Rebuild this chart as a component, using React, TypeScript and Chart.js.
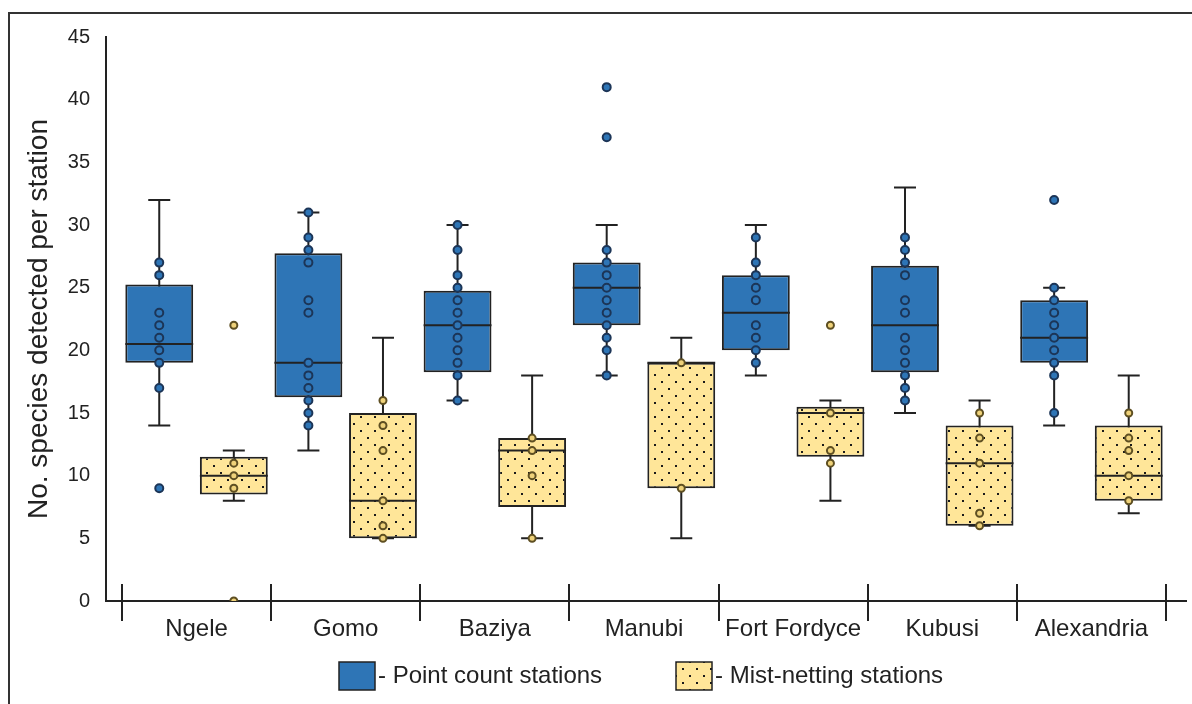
import React, { useEffect, useRef } from "react";
import { Chart, registerables } from "chart.js";

Chart.register(...registerables);

// ---------- data ----------
const categories = ["Ngele", "Gomo", "Baziya", "Manubi", "Fort Fordyce", "Kubusi", "Alexandria"];

const pointMin = [14, 12, 16, 18, 18, 15, 14];
const pointQ1 = [19, 16.25, 18.25, 22, 20, 18.25, 19];
const pointMedian = [20.5, 19, 22, 25, 23, 22, 21];
const pointQ3 = [25.25, 27.75, 24.75, 27, 26, 26.75, 24];
const pointMax = [32, 31, 30, 30, 30, 33, 25];
const pointObs = [
  [9, 17, 19, 20, 21, 22, 23, 26, 27],
  [14, 15, 16, 17, 18, 19, 23, 24, 27, 28, 29, 31],
  [16, 18, 19, 20, 21, 22, 23, 24, 25, 26, 28, 30],
  [18, 20, 21, 22, 23, 24, 25, 26, 27, 28, 37, 41],
  [19, 20, 21, 22, 24, 25, 26, 27, 29],
  [16, 17, 18, 19, 20, 21, 23, 24, 26, 27, 28, 29],
  [15, 18, 19, 20, 21, 22, 23, 24, 25, 32],
];

const mistMin = [8, 5, 5, 5, 8, 6, 7];
const mistQ1 = [8.5, 5, 7.5, 9, 11.5, 6, 8];
const mistMedian = [10, 8, 12, 19, 15, 11, 10];
const mistQ3 = [11.5, 15, 13, 19, 15.5, 14, 14];
const mistMax = [12, 21, 18, 21, 16, 16, 18];
const mistObs = [
  [0, 9, 10, 11, 22],
  [5, 6, 8, 12, 14, 16],
  [5, 10, 12, 13],
  [9, 19],
  [11, 12, 15, 22],
  [6, 7, 11, 13, 15],
  [8, 10, 12, 13, 15],
];

const yTicks = [0, 5, 10, 15, 20, 25, 30, 35, 40, 45];
const seriesLabels = ["Point count stations", "Mist-netting stations"];
const yTitle = "No. species detected per station";

// ---------- styles ----------
const BLUE = "#2E75B6";
const YELLOW = "#FFE699";
const INK = "#222222";
const FONT = "'Liberation Sans', Arial, sans-serif";
const OFFSETS = [0.25, 0.75];

function makePattern(): CanvasPattern | string {
  const c = document.createElement("canvas");
  c.width = 14;
  c.height = 14;
  const g = c.getContext("2d");
  if (!g) return YELLOW;
  g.fillStyle = YELLOW;
  g.fillRect(0, 0, 14, 14);
  g.fillStyle = "#1a1a1a";
  g.fillRect(3, 3, 2, 2);
  g.fillRect(10, 10, 2, 2);
  const p = g.createPattern(c, "repeat");
  return p || YELLOW;
}

const stats = [
  { min: pointMin, q1: pointQ1, med: pointMedian, q3: pointQ3, max: pointMax },
  { min: mistMin, q1: mistQ1, med: mistMedian, q3: mistQ3, max: mistMax },
];

const boxPlugin = {
  id: "boxParts",
  beforeDatasetsDraw(chart: any) {
    const { ctx } = chart;
    const xs = chart.scales.x;
    const ys = chart.scales.y;
    ctx.save();
    ctx.strokeStyle = INK;
    ctx.lineWidth = 2;
    stats.forEach((s, k) => {
      categories.forEach((_, i) => {
        const x = xs.getPixelForValue(i + OFFSETS[k]);
        const yMin = ys.getPixelForValue(s.min[i]);
        const yMax = ys.getPixelForValue(s.max[i]);
        ctx.beginPath();
        ctx.moveTo(x, yMin);
        ctx.lineTo(x, yMax);
        ctx.moveTo(x - 11, yMin);
        ctx.lineTo(x + 11, yMin);
        ctx.moveTo(x - 11, yMax);
        ctx.lineTo(x + 11, yMax);
        ctx.stroke();
      });
    });
    ctx.restore();
  },
  afterDatasetDraw(chart: any, args: any) {
    const meta = args.meta;
    if (meta.type !== "bar") return;
    const k = args.index;
    const s = stats[k];
    if (!s) return;
    const { ctx } = chart;
    const ys = chart.scales.y;
    ctx.save();
    ctx.strokeStyle = INK;
    ctx.lineWidth = 2;
    meta.data.forEach((bar: any, i: number) => {
      const y = ys.getPixelForValue(s.med[i]);
      const half = bar.width / 2;
      ctx.beginPath();
      ctx.moveTo(bar.x - half, y);
      ctx.lineTo(bar.x + half, y);
      ctx.stroke();
    });
    ctx.restore();
  },
  afterDraw(chart: any) {
    const { ctx } = chart;
    const xs = chart.scales.x;
    const ys = chart.scales.y;
    const y0 = ys.getPixelForValue(0);
    ctx.save();
    ctx.strokeStyle = INK;
    ctx.lineWidth = 2;
    for (let i = 0; i <= categories.length; i++) {
      const x = Math.round(xs.getPixelForValue(i));
      ctx.beginPath();
      ctx.moveTo(x, y0 - 17);
      ctx.lineTo(x, y0 + 20);
      ctx.stroke();
    }
    // legend
    const items = chart.data.datasets.slice(0, 2);
    const boxX = [339, 676];
    const boxY = 662;
    ctx.font = `24px ${FONT}`;
    ctx.textBaseline = "middle";
    ctx.textAlign = "left";
    items.forEach((ds: any, k: number) => {
      ctx.fillStyle = ds.backgroundColor;
      ctx.fillRect(boxX[k], boxY, 36, 28);
      ctx.lineWidth = 1.5;
      ctx.strokeStyle = INK;
      ctx.strokeRect(boxX[k], boxY, 36, 28);
      ctx.fillStyle = INK;
      ctx.fillText("- " + ds.label, boxX[k] + 39, boxY + 14);
    });
    ctx.restore();
  },
};

export default function App() {
  const ref = useRef<HTMLCanvasElement>(null);

  useEffect(() => {
    const canvas = ref.current;
    if (!canvas) return;
    const pattern = makePattern();
    const fills = [BLUE, pattern];
    const obs = [pointObs, mistObs];

    const barSets = seriesLabels.map((label, k) => ({
      type: "bar" as const,
      label,
      data: categories.map((_, i) => ({ x: i + OFFSETS[k], y: [stats[k].q1[i], stats[k].q3[i]] })),
      backgroundColor: fills[k],
      borderColor: INK,
      borderWidth: 2,
      borderSkipped: false,
      grouped: false,
      barPercentage: 0.91,
      categoryPercentage: 1,
      order: 2,
    }));

    const pointSets = seriesLabels.map((label, k) => ({
      type: "scatter" as const,
      label: label + " (stations)",
      data: obs[k].flatMap((vals, i) => vals.map((v) => ({ x: i + OFFSETS[k], y: v }))),
      pointRadius: k === 0 ? 4 : 3.5,
      pointBorderWidth: 2,
      backgroundColor: k === 0 ? BLUE : "#EFD27A",
      borderColor: k === 0 ? "#1c3557" : "#5e4f22",
      showLine: false,
      order: 0,
    }));

    const chart = new Chart(canvas, {
      type: "bar",
      data: { datasets: [...barSets, ...pointSets] as any },
      options: {
        animation: false,
        responsive: false,
        maintainAspectRatio: false,
        devicePixelRatio: 1,
        layout: { padding: { left: 0, top: 37, right: 4, bottom: 0 } },
        plugins: { legend: { display: false }, tooltip: { enabled: false } },
        scales: {
          x: {
            type: "linear",
            position: "bottom",
            offset: false,
            min: -0.107,
            max: 7.134,
            afterBuildTicks: (scale: any) => {
              scale.ticks = categories.map((_, i) => ({ value: i + 0.5 }));
            },
            afterFit: (scale: any) => {
              scale.height = 103;
            },
            grid: { display: false, drawTicks: false, offset: false },
            border: { display: true, color: INK, width: 2 },
            ticks: {
              autoSkip: false,
              maxRotation: 0,
              padding: 14,
              color: INK,
              font: { family: FONT, size: 24 },
              callback: (v: any) => categories[Math.round(Number(v) - 0.5)] ?? "",
            },
          },
          y: {
            type: "linear",
            min: 0,
            max: 45,
            afterBuildTicks: (scale: any) => {
              scale.ticks = yTicks.map((v) => ({ value: v }));
            },
            afterFit: (scale: any) => {
              scale.width = 106;
            },
            grid: { display: false, drawTicks: false },
            border: { display: true, color: INK, width: 2 },
            ticks: {
              padding: 16,
              color: INK,
              font: { family: FONT, size: 20 },
            },
            title: {
              display: true,
              text: yTitle,
              color: INK,
              font: { family: FONT, size: 28 },
              padding: { top: 22, bottom: 0 },
            },
          },
        },
      },
      plugins: [boxPlugin],
    } as any);
    return () => chart.destroy();
  }, []);

  return (
    <div style={{ position: "fixed", left: 0, top: 0, width: 1192, height: 704, background: "#fff" }}>
      <div
        style={{
          position: "absolute",
          left: 8,
          top: 12,
          width: 1184,
          height: 692,
          borderLeft: "2px solid #333",
          borderTop: "2px solid #333",
          boxSizing: "border-box",
        }}
      />
      <canvas ref={ref} width={1192} height={704} style={{ position: "absolute", left: 0, top: 0 }} />
    </div>
  );
}
